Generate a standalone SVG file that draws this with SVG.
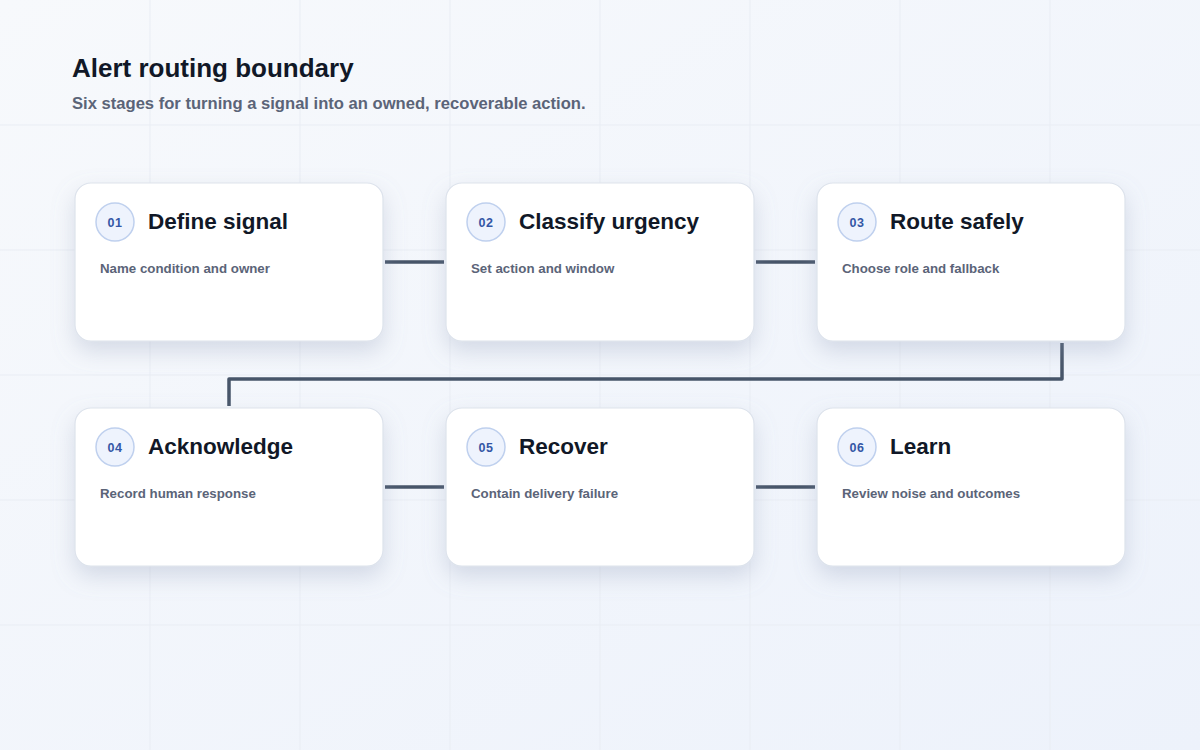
<svg xmlns="http://www.w3.org/2000/svg" width="1200" height="750" viewBox="0 0 1200 750">
  <defs>
    <linearGradient id="bg" x1="0" y1="0" x2="1" y2="1">
      <stop offset="0" stop-color="#f7f9fc"/>
      <stop offset="1" stop-color="#edf2fb"/>
    </linearGradient>
    <filter id="shadow" x="-20%" y="-20%" width="140%" height="160%">
      <feDropShadow dx="0" dy="10" stdDeviation="11" flood-color="#8a98b4" flood-opacity="0.3"/>
    </filter>
  </defs>
  <style>
    .grid { stroke: #e9edf4; stroke-width: 1; }
    .card { fill: #ffffff; stroke: #dde3ec; stroke-width: 1.2; filter: url(#shadow); }
    .badge { fill: #eef3fd; stroke: #bfd0ee; stroke-width: 1.5; }
    .num { font-family: "Liberation Sans", Arial, sans-serif; font-size: 12.5px; font-weight: 700; fill: #3457a6; text-anchor: middle; letter-spacing: 0.5px; }
    .title { font-family: "Liberation Sans", Arial, sans-serif; font-size: 22.5px; font-weight: 700; fill: #111827; }
    .desc { font-family: "Liberation Sans", Arial, sans-serif; font-size: 13.3px; font-weight: 700; fill: #5b6478; }
    .conn { fill: none; stroke: #475569; stroke-width: 3.5; stroke-linejoin: round; }
    .h1 { font-family: "Liberation Sans", Arial, sans-serif; font-size: 26px; font-weight: 700; fill: #111827; }
    .h2 { font-family: "Liberation Sans", Arial, sans-serif; font-size: 16.6px; font-weight: 700; fill: #5b6478; }
  </style>
  <rect width="1200" height="750" fill="url(#bg)"/>
  <g id="grid">
    <line class="grid" x1="150" y1="0" x2="150" y2="750"/>
    <line class="grid" x1="300" y1="0" x2="300" y2="750"/>
    <line class="grid" x1="450" y1="0" x2="450" y2="750"/>
    <line class="grid" x1="600" y1="0" x2="600" y2="750"/>
    <line class="grid" x1="750" y1="0" x2="750" y2="750"/>
    <line class="grid" x1="900" y1="0" x2="900" y2="750"/>
    <line class="grid" x1="1050" y1="0" x2="1050" y2="750"/>
    <line class="grid" x1="0" y1="125" x2="1200" y2="125"/>
    <line class="grid" x1="0" y1="250" x2="1200" y2="250"/>
    <line class="grid" x1="0" y1="375" x2="1200" y2="375"/>
    <line class="grid" x1="0" y1="500" x2="1200" y2="500"/>
    <line class="grid" x1="0" y1="625" x2="1200" y2="625"/>
  </g>
  <g id="header">
    <text class="h1" x="72" y="77">Alert routing boundary</text>
    <text class="h2" x="72" y="109">Six stages for turning a signal into an owned, recoverable action.</text>
  </g>
  <g id="connectors">
    <line class="conn" x1="385" y1="262" x2="444" y2="262"/>
    <line class="conn" x1="756" y1="262" x2="815" y2="262"/>
    <path class="conn" d="M1062 343 V379 H229 V406"/>
    <line class="conn" x1="385" y1="487" x2="444" y2="487"/>
    <line class="conn" x1="756" y1="487" x2="815" y2="487"/>
  </g>
  <g id="node-01">
    <rect class="card" x="75" y="183" width="308" height="158" rx="16"/>
    <circle class="badge" cx="115" cy="222" r="19"/>
    <text class="num" x="115" y="227">01</text>
    <text class="title" x="148" y="229">Define signal</text>
    <text class="desc" x="100" y="273">Name condition and owner</text>
  </g>
  <g id="node-02">
    <rect class="card" x="446" y="183" width="308" height="158" rx="16"/>
    <circle class="badge" cx="486" cy="222" r="19"/>
    <text class="num" x="486" y="227">02</text>
    <text class="title" x="519" y="229">Classify urgency</text>
    <text class="desc" x="471" y="273">Set action and window</text>
  </g>
  <g id="node-03">
    <rect class="card" x="817" y="183" width="308" height="158" rx="16"/>
    <circle class="badge" cx="857" cy="222" r="19"/>
    <text class="num" x="857" y="227">03</text>
    <text class="title" x="890" y="229">Route safely</text>
    <text class="desc" x="842" y="273">Choose role and fallback</text>
  </g>
  <g id="node-04">
    <rect class="card" x="75" y="408" width="308" height="158" rx="16"/>
    <circle class="badge" cx="115" cy="447" r="19"/>
    <text class="num" x="115" y="452">04</text>
    <text class="title" x="148" y="454">Acknowledge</text>
    <text class="desc" x="100" y="498">Record human response</text>
  </g>
  <g id="node-05">
    <rect class="card" x="446" y="408" width="308" height="158" rx="16"/>
    <circle class="badge" cx="486" cy="447" r="19"/>
    <text class="num" x="486" y="452">05</text>
    <text class="title" x="519" y="454">Recover</text>
    <text class="desc" x="471" y="498">Contain delivery failure</text>
  </g>
  <g id="node-06">
    <rect class="card" x="817" y="408" width="308" height="158" rx="16"/>
    <circle class="badge" cx="857" cy="447" r="19"/>
    <text class="num" x="857" y="452">06</text>
    <text class="title" x="890" y="454">Learn</text>
    <text class="desc" x="842" y="498">Review noise and outcomes</text>
  </g>
</svg>
